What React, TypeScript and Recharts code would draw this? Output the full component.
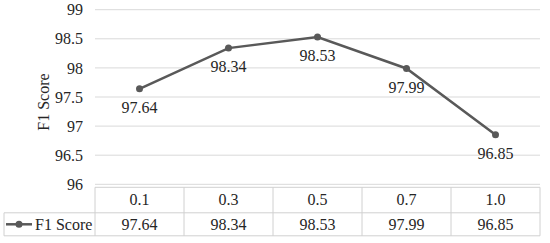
import { LineChart, Line, XAxis, YAxis, CartesianGrid, LabelList } from 'recharts';

const categories = ['0.1', '0.3', '0.5', '0.7', '1.0'];
const f1Scores = [97.64, 98.34, 98.53, 97.99, 96.85];
const yTicks = [96, 96.5, 97, 97.5, 98, 98.5, 99];
const seriesName = 'F1 Score';

const data = categories.map((c, i) => ({ param: c, f1: f1Scores[i] }));

const W = 550;
const H = 243;
const PLOT_LEFT = 95;
const PLOT_RIGHT = 10;
const CELL_W = (W - PLOT_LEFT - PLOT_RIGHT) / categories.length;
const FONT = 'Liberation Serif, DejaVu Serif, serif';
const LINE_COLOR = '#595959';
const BORDER = '#d0d0d0';
const TEXT = '#262626';

// x-axis tick drawn as one column of the data table
function TableTick(props: any) {
  const { x, y, payload, index } = props;
  const half = CELL_W / 2;
  const top = y + 3;
  const mid = top + 25.5;
  const bottom = mid + 23;
  const isLast = index === categories.length - 1;
  const txt = { fontFamily: FONT, fontSize: 16, fill: TEXT };
  return (
    <g>
      <line x1={x - half} x2={x + half} y1={top} y2={top} stroke={BORDER} />
      <line x1={x - half} x2={x + half} y1={mid} y2={mid} stroke={BORDER} />
      <line x1={x - half} x2={x + half} y1={bottom} y2={bottom} stroke={BORDER} />
      <line x1={x - half} x2={x - half} y1={top} y2={bottom} stroke={BORDER} />
      {isLast && <line x1={x + half} x2={x + half} y1={top} y2={bottom} stroke={BORDER} />}
      <text x={x} y={top + 18} textAnchor="middle" style={txt}>{payload.value}</text>
      <text x={x} y={mid + 17} textAnchor="middle" style={txt}>{f1Scores[index].toFixed(2)}</text>
      {index === 0 && (
        <g>
          <line x1={4} x2={x - half} y1={mid} y2={mid} stroke={BORDER} />
          <line x1={4} x2={x - half} y1={bottom} y2={bottom} stroke={BORDER} />
          <line x1={4} x2={4} y1={mid} y2={bottom} stroke={BORDER} />
          <line x1={6} x2={32} y1={mid + 11.5} y2={mid + 11.5} stroke={LINE_COLOR} strokeWidth={2.5} />
          <circle cx={19} cy={mid + 11.5} r={3.5} fill={LINE_COLOR} />
          <text x={35} y={mid + 17} textAnchor="start" style={txt}>{seriesName}</text>
        </g>
      )}
    </g>
  );
}

function AxisTitle(props: any) {
  const vb = props.viewBox || { x: 0, y: 0, height: 0 };
  const cx = vb.x + 49;
  const cy = vb.y + vb.height / 2 + 5;
  return (
    <text
      x={cx}
      y={cy}
      transform={`rotate(-90, ${cx}, ${cy})`}
      textAnchor="middle"
      style={{ fontFamily: FONT, fontSize: 16, fill: TEXT }}
    >
      {seriesName}
    </text>
  );
}

export default function App() {
  return (
    <div style={{ position: 'absolute', left: 0, top: 0, width: W, height: H, background: '#fff', fontFamily: FONT }}>
      <LineChart
        width={W}
        height={H}
        data={data}
        margin={{ top: 9.7, right: PLOT_RIGHT, bottom: 0, left: 0 }}
        style={{ fontFamily: FONT }}
      >
        <CartesianGrid vertical={false} stroke="#d9d9d9" strokeWidth={1} />
        <XAxis
          dataKey="param"
          interval={0}
          axisLine={false}
          tickLine={false}
          tickSize={0}
          tickMargin={0}
          height={58.7}
          padding={{ left: CELL_W / 2, right: CELL_W / 2 }}
          tick={(p: any) => <TableTick {...p} />}
        />
        <YAxis
          domain={[96, 99]}
          ticks={yTicks}
          width={PLOT_LEFT}
          axisLine={false}
          tickLine={false}
          tickSize={0}
          tickMargin={12}
          tick={{ fontSize: 16, fill: TEXT, fontFamily: FONT }}
          label={<AxisTitle />}
        />
        <Line
          dataKey="f1"
          name={seriesName}
          stroke={LINE_COLOR}
          strokeWidth={2.5}
          dot={{ r: 3.5, fill: LINE_COLOR, stroke: LINE_COLOR, strokeWidth: 0 }}
          activeDot={false}
          isAnimationActive={false}
        >
          <LabelList
            dataKey="f1"
            position="bottom"
            offset={13}
            formatter={(v: any) => Number(v).toFixed(2)}
            style={{ fontSize: 16, fill: TEXT, fontFamily: FONT }}
          />
        </Line>
      </LineChart>
    </div>
  );
}
